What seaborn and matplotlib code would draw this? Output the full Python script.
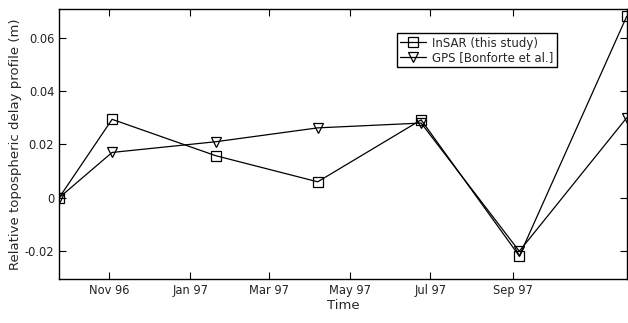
import matplotlib
matplotlib.use("Agg")
import matplotlib.pyplot as plt
import matplotlib.dates as mdates
import seaborn as sns
import pandas as pd
import numpy as np

dates = ["1996-09-24", "1996-11-03", "1997-01-20", "1997-04-07", "1997-06-24", "1997-09-06", "1997-11-26"]
insar = [0.0, 0.0294, 0.0158, 0.0060, 0.0292, -0.0218, 0.068]
gps = [0.0, 0.0170, 0.0210, 0.0262, 0.0280, -0.0200, 0.0300]
series_names = ["InSAR (this study)", "GPS [Bonforte et al.]"]
tick_dates = ["1996-11-01", "1997-01-01", "1997-03-01", "1997-05-01", "1997-07-01", "1997-09-01"]
tick_labels = ["Nov 96", "Jan 97", "Mar 97", "May 97", "Jul 97", "Sep 97"]
yticks = [-0.02, 0, 0.02, 0.04, 0.06]
ytick_labels = ["-0.02", "0", "0.02", "0.04", "0.06"]

sns.set_theme(style="ticks")
plt.rcParams['font.family'] = ['DejaVu Sans']

df = pd.DataFrame({
    "Time": pd.to_datetime(dates * 2),
    "value": insar + gps,
    "series": [series_names[0]] * len(dates) + [series_names[1]] * len(dates),
})

fig, ax = plt.subplots(figsize=(6.28, 3.23), dpi=100)
fig.subplots_adjust(left=0.094, right=0.998, top=0.972, bottom=0.137)

sns.lineplot(data=df, x="Time", y="value", style="series", markers=["s", "v"],
             dashes=False, color="black", linewidth=0.9, markersize=6.5,
             markerfacecolor="none", markeredgecolor="black", markeredgewidth=0.9,
             ax=ax, legend=True)

ax.set_xlim(pd.Timestamp(dates[0]), pd.Timestamp(dates[-1]))
ax.set_ylim(-0.0303, 0.0707)
ax.set_xticks(pd.to_datetime(tick_dates))
ax.set_xticklabels(tick_labels, fontsize=8.3)
ax.set_yticks(yticks)
ax.set_yticklabels(ytick_labels, fontsize=8.3)
ax.tick_params(direction="in", top=True, right=True, length=5, width=0.8, colors="black", labelcolor="#222222")
for s in ax.spines.values():
    s.set_linewidth(1.0)
    s.set_color("black")
ax.set_xlabel("Time", fontsize=9.5, labelpad=2)
ax.set_ylabel("Relative topospheric delay profile (m)", fontsize=9.5, labelpad=2)

leg = ax.legend(loc="upper left", bbox_to_anchor=(0.595, 0.911), borderaxespad=0, fontsize=8.5,
                frameon=True, fancybox=False, edgecolor="black", framealpha=1,
                handlelength=2.2, borderpad=0.3, labelspacing=0.1, handletextpad=0.5)
leg.get_frame().set_linewidth(1.0)
for h in leg.legend_handles:
    h.set_markerfacecolor("none")
    h.set_markeredgecolor("black")
    h.set_color("black")

fig.savefig("out.png", dpi=100)
